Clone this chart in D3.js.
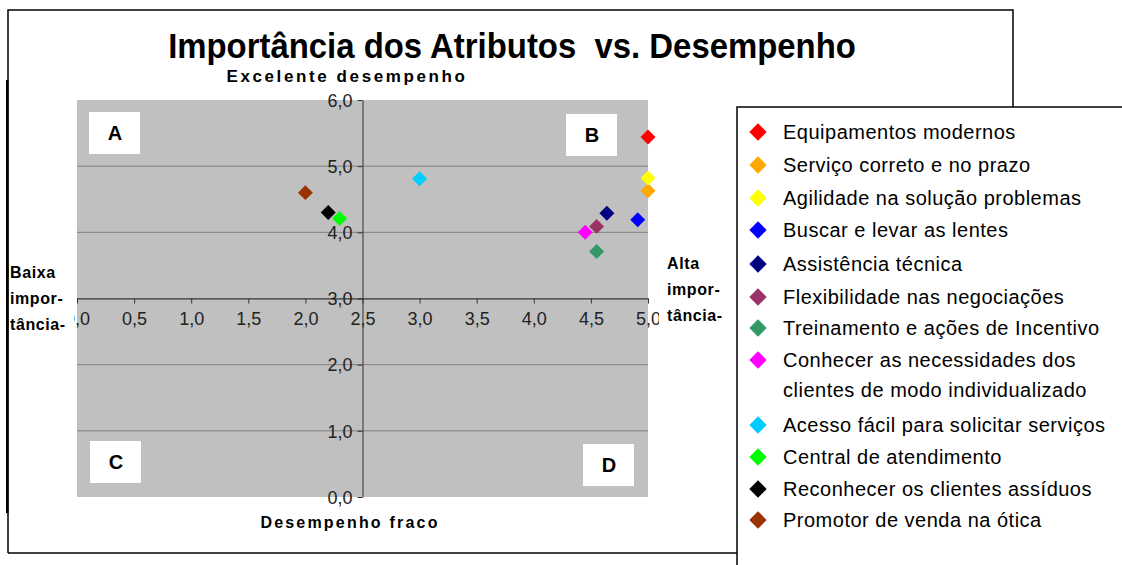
<!DOCTYPE html>
<meta charset="utf-8">
<style>
body { margin: 0; background: #fff; }
text { font-family: "Liberation Sans", Arial, sans-serif; }
.grid line { stroke: #808080; stroke-width: 1px; }
.axis path, .axis line { stroke: #333; stroke-width: 1px; }
.axis text { font-size: 18px; fill: #222; font-family: "Liberation Sans", Arial, sans-serif; }
.side { font-size: 16px; font-weight: bold; letter-spacing: 0.6px; }
.legend text { font-size: 20px; fill: #000; letter-spacing: 0.5px; }
</style>
<body>
<script src="https://d3js.org/d3.v7.min.js"></script>
<script>

var names = ["Equipamentos modernos", "Serviço correto e no prazo", "Agilidade na solução problemas",
  "Buscar e levar as lentes", "Assistência técnica", "Flexibilidade nas negociações",
  "Treinamento e ações de Incentivo", "Conhecer as necessidades dos|clientes de modo individualizado",
  "Acesso fácil para solicitar serviços", "Central de atendimento", "Reconhecer os clientes assíduos",
  "Promotor de venda na ótica"];
var colors = ["#ff0000", "#ffa800", "#ffff00", "#0000ff", "#000080", "#993366",
  "#339966", "#ff00ff", "#00ccff", "#00ff00", "#000000", "#993300"];
var desempenho = [5.00, 5.00, 5.00, 4.91, 4.64, 4.55, 4.55, 4.45, 3.00, 2.30, 2.20, 2.00];
var importancia = [5.44, 4.63, 4.82, 4.19, 4.29, 4.09, 3.71, 4.00, 4.81, 4.21, 4.30, 4.60];
var xTicks = [0, 0.5, 1, 1.5, 2, 2.5, 3, 3.5, 4, 4.5, 5];
var yTicks = [0, 1, 2, 3, 4, 5, 6];
var quadrants = ["A", "B", "C", "D"];

var width = 1122, height = 565;
var svg = d3.select("body").append("svg")
    .attr("width", width)
    .attr("height", height);

var fmt = function(d) { return d.toFixed(1).replace(".", ","); };

var x = d3.scaleLinear().domain([0, 5]).range([77, 648]);
var y = d3.scaleLinear().domain([0, 6]).range([497, 100]);

// outer frame
svg.append("path")
    .attr("d", "M8,553V10H1013V107")
    .attr("fill", "none").attr("stroke", "#000").attr("stroke-width", 1.5);
svg.append("path")
    .attr("d", "M8,553H737")
    .attr("fill", "none").attr("stroke", "#000").attr("stroke-width", 1.5);
svg.append("rect")
    .attr("x", 6).attr("y", 80).attr("width", 2.5).attr("height", 433)
    .attr("fill", "#000");

// title, a bit condensed like the original
svg.append("text")
    .attr("transform", "translate(512,58) scale(0.94,1)")
    .attr("text-anchor", "middle")
    .style("font-size", "35px").style("font-weight", "bold")
    .style("white-space", "pre")
    .text("Importância dos Atributos  vs. Desempenho");

svg.append("text")
    .attr("x", 347).attr("y", 82)
    .attr("text-anchor", "middle")
    .style("font-size", "17px").style("font-weight", "bold")
    .style("letter-spacing", "2.6px")
    .text("Excelente desempenho");

svg.append("text")
    .attr("x", 350).attr("y", 528)
    .attr("text-anchor", "middle")
    .style("font-size", "16px").style("font-weight", "bold")
    .style("letter-spacing", "2.2px")
    .text("Desempenho fraco");

// plot area
svg.append("rect")
    .attr("x", 77).attr("y", 100)
    .attr("width", 571).attr("height", 397)
    .attr("fill", "#c0c0c0");

svg.append("g")
    .attr("class", "grid")
    .selectAll("line")
    .data(yTicks.filter(function(d) { return d > 0 && d < 6; }))
  .enter().append("line")
    .attr("x1", 77).attr("x2", 648)
    .attr("y1", function(d) { return y(d); })
    .attr("y2", function(d) { return y(d); });

// quadrant boxes
var qbox = [{x: 89, y: 112}, {x: 566, y: 114}, {x: 90, y: 441}, {x: 583, y: 444}];
var q = svg.append("g").selectAll("g")
    .data(quadrants)
  .enter().append("g")
    .attr("transform", function(d, i) { return "translate(" + qbox[i].x + "," + qbox[i].y + ")"; });
q.append("rect").attr("width", 51).attr("height", 42).attr("fill", "#fff");
q.append("text")
    .attr("x", 26).attr("y", 28)
    .attr("text-anchor", "middle")
    .style("font-size", "20px").style("font-weight", "bold")
    .text(function(d) { return d; });

// axes crossing at (2.5, 3)
var xAxis = svg.append("g")
    .attr("class", "axis")
    .attr("transform", "translate(0," + y(3) + ")")
    .call(d3.axisBottom(x).tickValues(xTicks).tickFormat(fmt).tickSize(5).tickSizeOuter(0));
xAxis.selectAll("text").attr("y", 14).attr("dy", "0.71em");

var yAxis = svg.append("g")
    .attr("class", "axis")
    .attr("transform", "translate(" + x(2.5) + ",0)")
    .call(d3.axisLeft(y).tickValues(yTicks).tickFormat(fmt).tickSize(5).tickSizeOuter(0));
yAxis.selectAll("text").attr("x", -10).attr("dy", "0.35em");

// side labels with white backgrounds
function sideLabel(x0, w, tx, ys, lines) {
  svg.append("rect")
      .attr("x", x0).attr("y", ys - 20)
      .attr("width", w).attr("height", 76)
      .attr("fill", "#fff");
  svg.append("text")
      .attr("class", "side")
      .selectAll("tspan")
      .data(lines)
    .enter().append("tspan")
      .attr("x", tx)
      .attr("y", function(d, i) { return ys + i * 26; })
      .text(function(d) { return d; });
}
sideLabel(9, 65, 10, 278, ["Baixa", "impor-", "tância-"]);
sideLabel(659, 76, 667, 269, ["Alta", "impor-", "tância-"]);

// points
svg.append("g").selectAll("path")
    .data(names)
  .enter().append("path")
    .attr("d", d3.symbol().type(d3.symbolSquare).size(112))
    .attr("transform", function(d, i) {
      return "translate(" + x(desempenho[i]) + "," + y(importancia[i]) + ") rotate(45)";
    })
    .attr("fill", function(d, i) { return colors[i]; });

// legend
svg.append("rect")
    .attr("x", 737).attr("y", 107)
    .attr("width", 400).attr("height", 470)
    .attr("fill", "#fff").attr("stroke", "#000").attr("stroke-width", 1.5);

var rowY = [132, 165, 198, 230, 264, 297, 328, 360, 425, 457, 489, 520];
var lg = svg.append("g").attr("class", "legend")
    .selectAll("g")
    .data(names)
  .enter().append("g")
    .attr("transform", function(d, i) { return "translate(758," + rowY[i] + ")"; });
lg.append("path")
    .attr("d", d3.symbol().type(d3.symbolSquare).size(150))
    .attr("transform", "rotate(45)")
    .attr("fill", function(d, i) { return colors[i]; });
lg.append("text")
    .selectAll("tspan")
    .data(function(d) { return d.split("|"); })
  .enter().append("tspan")
    .attr("x", 25)
    .attr("y", function(d, i) { return 7 + i * 30; })
    .text(function(d) { return d; });

</script>
